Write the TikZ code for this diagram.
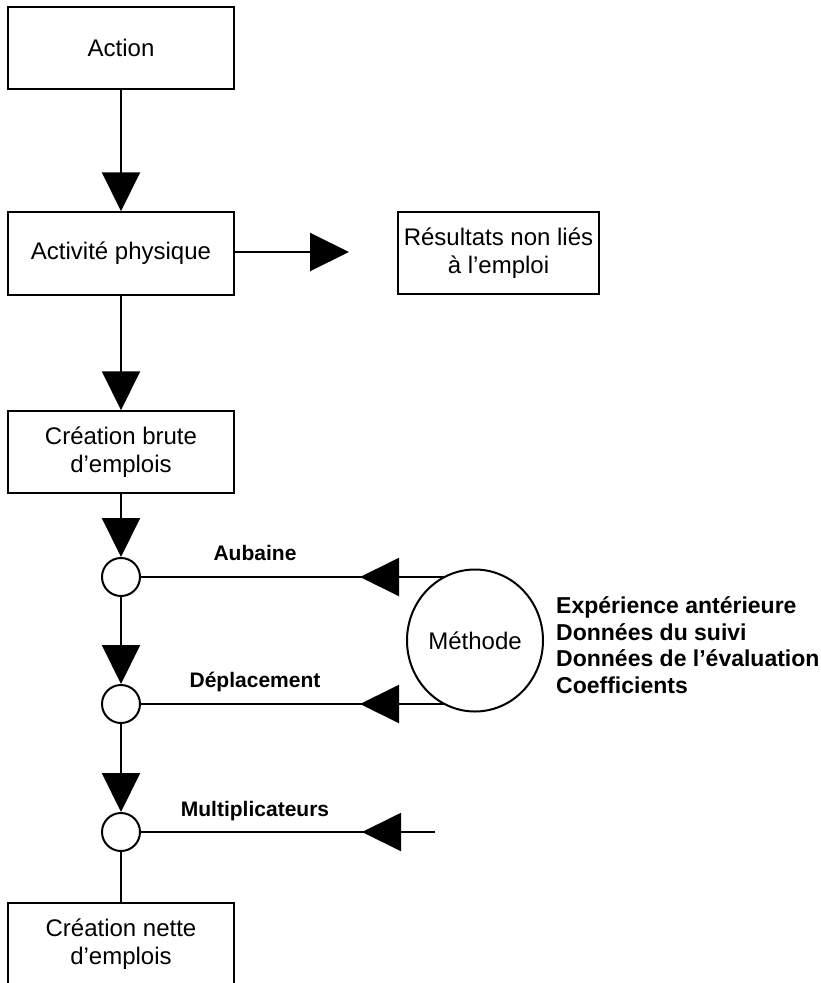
\documentclass[tikz,border=0pt]{standalone}
\usepackage{fontspec}
\setmainfont{Liberation Sans}
\usetikzlibrary{arrows.meta,shapes.geometric}
\begin{document}
\begin{tikzpicture}[x=1pt,y=-1pt,
  box/.style={draw,line width=1.5pt,minimum width=226pt,minimum height=82pt,inner sep=0pt,align=center,font=\fontsize{24}{28}\selectfont},
  junction/.style={draw,circle,line width=2pt,minimum size=38pt,inner sep=0pt},
  conn/.style={line width=2pt},
  arr/.style={line width=2pt,-{Triangle[length=39pt,width=38pt]}},
  lbl/.style={font=\fontsize{21}{24}\bfseries\selectfont,anchor=base},
  every node/.style={text=black}]
\useasboundingbox (0,0) rectangle (821,983);

\node[box] (action) at (121,48) {Action};
\node[box,minimum height=83pt] (activ) at (121,253.5) {Activité physique};
\node[box,minimum width=201pt] (result) at (498.5,253) {Résultats non liés\\à l’emploi};
\node[box] (brute) at (121,452) {Création brute\\d’emplois};
\node[junction] (c1) at (121,577) {};
\node[junction] (c2) at (121,704) {};
\node[junction] (c3) at (121,832) {};
\node[box] (nette) at (121,944) {Création nette\\d’emplois};
\node[draw,ellipse,line width=2pt,minimum width=136pt,minimum height=142pt,inner sep=0pt,font=\fontsize{24}{28}\selectfont] (meth) at (475,640.5) {Méthode};

\node[anchor=west,align=left,inner sep=0pt,font=\fontsize{23}{26.5}\bfseries\selectfont] (list) at (556,645) {Expérience antérieure\\Données du suivi\\Données de l’évaluation\\Coefficients};

\node[lbl] (laub) at (255,560) {Aubaine};
\node[lbl] (ldep) at (255,687) {Déplacement};
\node[lbl] (lmul) at (255,816) {Multiplicateurs};

\coordinate (tres) at (349,252);
\coordinate (ta) at (360,577);
\coordinate (td) at (360,704);
\coordinate (tm) at (362,832);
\coordinate (smul) at (435,832);

\draw[arr] (action) -- (activ);
\draw[arr] (activ.east |- tres) -- (tres);
\draw[arr] (activ) -- (brute);
\draw[arr] (brute) -- (c1);
\draw[arr] (c1) -- (c2);
\draw[arr] (c2) -- (c3);
\draw[conn] (c3) -- (nette);

\draw[conn] (c1 -| meth.116) -- (c1.east);
\draw[arr] (c1 -| meth.116) -- (ta);
\draw[conn] (c2 -| meth.244) -- (c2.east);
\draw[arr] (c2 -| meth.244) -- (td);
\draw[conn] (smul) -- (c3.east);
\draw[arr] (smul) -- (tm);
\end{tikzpicture}
\end{document}
